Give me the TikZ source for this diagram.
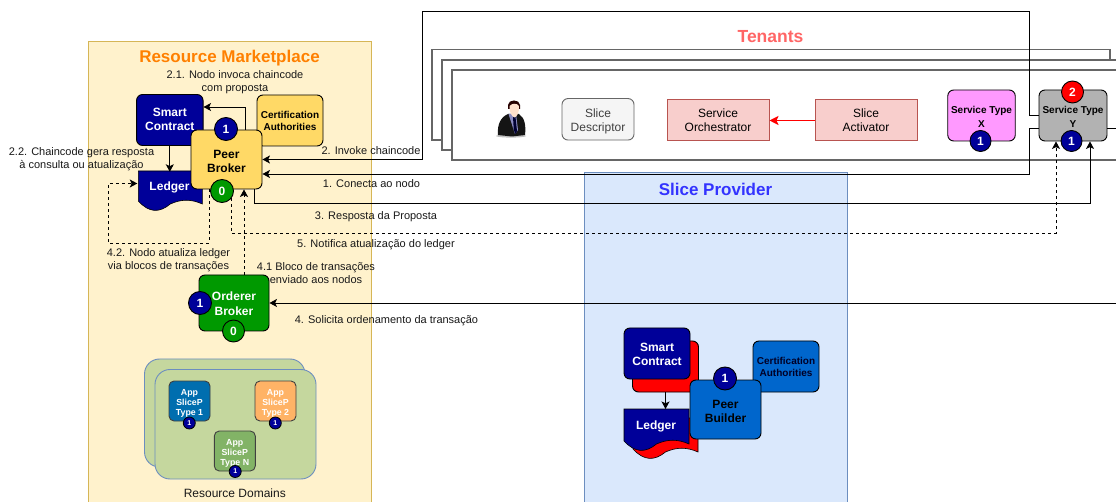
\documentclass[tikz,border=0pt]{standalone}
\usepackage{fontspec}
\setmainfont{Liberation Sans}
\usetikzlibrary{arrows.meta,calc}
\definecolor{navyb}{HTML}{000099}
\definecolor{grn}{HTML}{009900}
\definecolor{gold}{HTML}{FFD966}
\definecolor{frame}{HTML}{666666}
\definecolor{blue6}{HTML}{0066CC}
\definecolor{mkfill}{HTML}{FFF2CC}
\definecolor{mkline}{HTML}{D6B656}
\definecolor{spfill}{HTML}{DAE8FC}
\definecolor{spline}{HTML}{6C8EBF}
\definecolor{rdfill}{HTML}{C5D79E}
\definecolor{sofill}{HTML}{F8CECC}
\definecolor{soline}{HTML}{B85450}
\definecolor{rmtc}{HTML}{FF8000}
\definecolor{sptc}{HTML}{3333FF}
\definecolor{tentc}{HTML}{FF6666}
\newcommand{\fs}[2]{\fontsize{#1}{#2}\selectfont}
% text block moved down inside its node by #1 pt
\newcommand{\dn}[2]{\raisebox{-#1pt}[\height][\depth]{\begin{tabular}{@{}c@{}}#2\end{tabular}}}
\tikzset{
  x=1pt,y=-1pt,
  box/.style={draw=black,line width=0.9pt,rounded corners=6pt,inner sep=0pt,align=center},
  badge/.style={circle,draw=black,line width=0.9pt,inner sep=0pt,text=white,font=\bfseries\fs{12}{14}},
  nb/.style={badge,fill=navyb},
  gb/.style={badge,fill=grn},
  smallb/.style={circle,draw=black,line width=0.8pt,fill=navyb,minimum size=12pt,inner sep=0pt,text=white,font=\bfseries\fs{7}{8}},
  app/.style={box,rounded corners=5pt,draw=black!75,minimum width=41pt,minimum height=40pt,text=white,font=\bfseries\fs{8.8}{10}},
  lbl/.style={align=center,inner sep=0pt,font=\fs{11}{13},text=black!90},
  wire/.style={draw=black,line width=0.9pt},
  tip/.style={wire,-{Stealth[length=7.5pt,width=8pt,inset=1.8pt]}},
  dashwire/.style={tip,dash pattern=on 3pt off 3pt},
  frm/.style={draw=frame,line width=1.2pt,fill=white},
  sobox/.style={draw=soline,line width=1pt,fill=sofill,minimum width=102pt,minimum height=41pt,inner sep=0pt,align=center,font=\fs{12}{14}},
  dom/.style={draw=spline,line width=0.9pt,fill=rdfill,rounded corners=15pt},
}
\newcommand{\docshape}[5]{% x0 x1 ytop ybase style
  \path[#5] (#1,#3) -- (#2,#3) -- (#2,#4)
   .. controls ($(#2,#4)!0.17!(#1,#4)+(0,-5)$) and ($(#2,#4)!0.33!(#1,#4)+(0,-5)$) .. ($(#2,#4)!0.5!(#1,#4)$)
   .. controls ($(#2,#4)!0.67!(#1,#4)+(0,9)$) and ($(#2,#4)!0.83!(#1,#4)+(0,9)$) .. ($(#1,#4)+(0,-3)$) -- cycle;
}
\begin{document}
\begin{tikzpicture}
\useasboundingbox (0,0) rectangle (1116,502);
\clip (0,0) rectangle (1116,502);
\fill[white] (0,0) rectangle (1116,502);
% tenant frames
\draw[frm] (432,49.7) rectangle (1110,140);
\draw[frm] (442,60) rectangle (1130,150);
\draw[frm] (452,70) rectangle (1130,160);
\node[font=\bfseries\fs{17.5}{20},text=tentc,inner sep=0pt] (tenants) at (770.5,36.5) {Tenants};
% panels
\path[draw=mkline,line width=1pt,fill=mkfill] (88,41.5) rectangle (371.5,520);
\path[draw=spline,line width=1pt,fill=spfill] (584,173) rectangle (847,520);
\node[font=\bfseries\fs{17}{20},text=rmtc,inner sep=0pt] (rmt) at (229.5,58.5) {Resource Marketplace};
\node[font=\bfseries\fs{17}{20},text=sptc,inner sep=0pt] (spt) at (715.5,189.5) {Slice Provider};
% person
\begin{scope}
 \fill[black!25] (511,136) ellipse (15 and 1.6);
 \fill[black!92] (498,135) .. controls (497,124) and (501,117) .. (508,114) -- (519,114)
   .. controls (525,118) and (526,126) .. (525,135) -- (512,136.5) -- cycle;
 \fill[blue!30!gray!70!white] (508.5,114) -- (516,114) -- (518,130) -- (515,134) -- cycle;
 \fill[black!80!blue] (513,117) -- (515.5,117) -- (517,131) -- (515.5,134) -- (513.8,130) -- cycle;
 \fill[black!85!red] (508,105) .. controls (508,99) and (520,99) .. (520,105) -- (520,109) -- (508,109) -- cycle;
 \fill[red!22!orange!20!white] (509.5,106) .. controls (512,103) and (517,103) .. (519,106)
    .. controls (519.5,112) and (517,117) .. (514.5,117.5) .. controls (512,117) and (509,112) .. (509.5,106) -- cycle;
\end{scope}
% tenant boxes
\node[box,draw=black!60,fill=black!4,minimum width=72pt,minimum height=41.5pt,text=black!75,font=\fs{12}{14}] (sd) at (598,119.3) {\dn{2}{Slice\\Descriptor}};
\node[sobox] (so) at (718,120.5) {\dn{1}{Service\\Orchestrator}};
\node[sobox] (sa) at (866,120.5) {\dn{1}{Slice\\Activator}};
\draw[draw=red,line width=1.6pt,-{Stealth[length=9pt,width=9pt,inset=2pt]}] (sa) -- (so);
\node[box,fill={rgb,255:red,255;green,153;blue,255},minimum width=67.5pt,minimum height=51pt,font=\bfseries\fs{10}{14}] (stx) at (981.5,115.5) {\dn{2}{Service Type\\X}};
\node[box,fill=black!30,minimum width=68pt,minimum height=51pt,font=\bfseries\fs{10}{14}] (sty) at (1073,115.5) {\dn{2}{Service Type\\Y}};
\node[nb,minimum size=21pt] (stxb) at (980.5,141) {1};
\node[nb,minimum size=21pt] (styb) at (1071.5,141) {1};
\node[badge,fill=red,minimum size=22pt] (styr) at (1072.5,92) {2};
% marketplace nodes
\node[box,fill=navyb,text=white,minimum width=66.5pt,minimum height=51pt,font=\bfseries\fs{12}{14}] (sc) at (169.8,120) {\dn{1}{Smart\\Contract}};
\node[box,fill=gold,minimum width=66pt,minimum height=51pt,font=\bfseries\fs{10}{12}] (ca) at (290,120.5) {Certification\\Authorities};
\docshape{138.3}{202.3}{171}{204}{fill=navyb,draw=black,line width=0.6pt}
\node[minimum width=64pt,minimum height=30pt,inner sep=0pt,text=white,font=\bfseries\fs{12}{14}] (led) at (169.5,187) {Ledger};
\node[box,fill=gold,minimum width=71pt,minimum height=59pt,font=\bfseries\fs{12}{14}] (pb) at (226.5,159.5) {\dn{3}{Peer\\Broker}};
\node[nb,minimum size=23pt] (pb1) at (226,129) {1};
\node[gb,minimum size=23pt] (pb0) at (222,191) {0};
\node[box,fill=grn,text=white,minimum width=70pt,minimum height=56pt,font=\bfseries\fs{12}{15}] (ob) at (234,303) {\dn{2}{Orderer\\Broker}};
\node[nb,minimum size=23pt] (ob1) at (200,303) {1};
\node[gb,minimum size=22pt] (ob0) at (233.5,331) {0};
% resource domains
\draw[dom] (144.5,359) rectangle (305,467);
\draw[dom] (155,369.5) rectangle (316,479);
\node[app,fill={rgb,255:red,0;green,110;blue,175}] (a1) at (189.5,401) {\dn{2}{App\\SliceP\\Type 1}};
\node[app,fill={rgb,255:red,255;green,179;blue,102}] (a2) at (275.5,401) {\dn{2}{App\\SliceP\\Type 2}};
\node[app,fill={rgb,255:red,130;green,179;blue,102}] (a3) at (234.8,451) {\dn{2}{App\\SliceP\\Type N}};
\node[smallb] (a1b) at (189.3,423) {1};
\node[smallb] (a2b) at (275.3,423) {1};
\node[smallb] (a3b) at (235.2,471.5) {1};
\node[font=\fs{12}{14},inner sep=0pt,text=black!90] (rd) at (234.8,493) {Resource Domains};
% builder
\node[box,fill=blue6,text=black!85!blue,minimum width=66pt,minimum height=51pt,font=\bfseries\fs{10}{12}] (ca2) at (786,366.5) {Certification\\Authorities};
\node[box,fill=red,minimum width=66pt,minimum height=51pt] (scb) at (665.5,366.5) {};
\node[box,fill=navyb,text=white,minimum width=66pt,minimum height=51pt,font=\bfseries\fs{12}{14}] (sc2) at (657,353.5) {\dn{2}{Smart\\Contract}};
\docshape{633}{698}{418}{452}{fill=red,draw=black,line width=0.6pt}
\docshape{624}{689}{409}{444}{fill=navyb,draw=black,line width=0.6pt}
\node[minimum width=64pt,minimum height=30pt,inner sep=0pt,text=white,font=\bfseries\fs{12}{14}] (led2) at (656,426) {Ledger};
\node[box,fill=blue6,minimum width=71pt,minimum height=59pt,font=\bfseries\fs{12}{14}] (pbd) at (725.5,409.5) {\dn{3}{Peer\\Builder}};
\node[nb,minimum size=23pt] (pbd1) at (725,378.5) {1};
\coordinate (led2top) at (665.5,409);
\draw[tip] (scb.south) -- (led2top);
% connectors
\coordinate (c1) at (1029,11);
\coordinate (c2) at (422,11);
\coordinate (c3) at (422,159.5);
\coordinate (c4) at (1029,174);
\coordinate (c5) at (1090,203);
\coordinate (c6) at (1056,233.5);
\coordinate (c7) at (108,243);
\coordinate (edgeO) at (1116,303);
\coordinate (edgeY) at (1116,128);
\draw[tip] (sty.west) -| (c1) -- (c2) -- (c3) -- (pb.east);
\draw[tip] ([yshift=-12.5pt]sty.west) -| (c4) -- ([yshift=-14.5pt]pb.east);
\draw[tip] ([xshift=27.5pt]pb.south) |- (c5) -- ([xshift=17pt]sty.south);
\draw[dashwire] (pb0.-35) |- (c6) -- ([xshift=-17pt]sty.south);
\draw[wire] ([yshift=-12.5pt]sty.east) -- (edgeY);
\draw[tip] (edgeO) -- (ob.east);
\draw[tip] ([xshift=18.5pt]pb.north) |- ([yshift=13pt]sc.east);
\draw[tip] (sc.south) -- (sc.south |- led.north);
\draw[dashwire] ([xshift=10pt]ob.north) -- ([xshift=17.5pt]pb.south);
\draw[dashwire] ([xshift=-17.5pt]pb.south) |- (c7) |- ([yshift=3.5pt]led.west);
% labels
\node[lbl] (l21) at (235,82) {2.1. Nodo invoca chaincode\\com proposta};
\node[lbl] (l22) at (81.5,159.5) {2.2. Chaincode gera resposta\\à consulta ou atualização};
\node[lbl] (l2) at (371,151) {2. Invoke chaincode};
\node[lbl] (l1) at (371.5,184) {1. Conecta ao nodo};
\node[lbl] (l3) at (376,217) {3. Resposta da Proposta};
\node[lbl] (l5) at (376,245) {5. Notifica atualização do ledger};
\node[lbl] (l42) at (168.5,260.5) {4.2. Nodo atualiza ledger\\via blocos de transações};
\node[lbl] (l41) at (316,273.5) {4.1 Bloco de transações\\enviado aos nodos};
\node[lbl] (l4) at (386.5,321) {4. Solicita ordenamento da transação};
\end{tikzpicture}
\end{document}
